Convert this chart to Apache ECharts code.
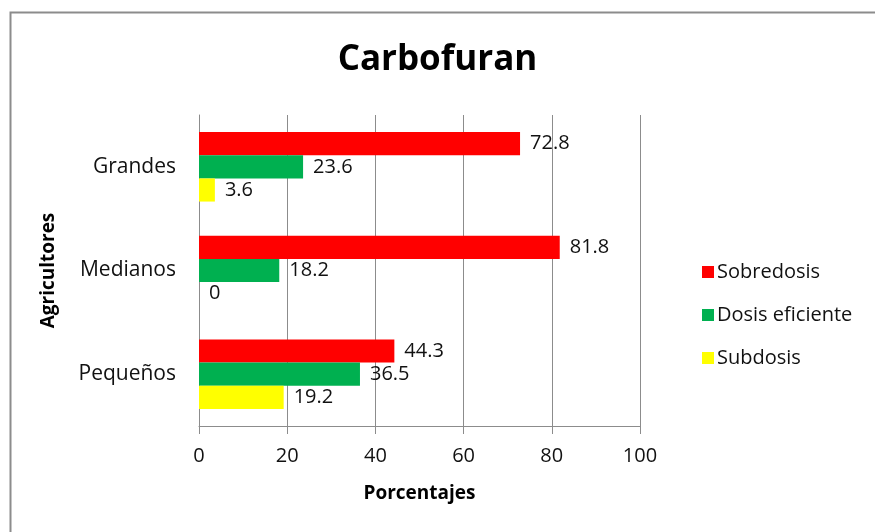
<!DOCTYPE html>
<html>
<head>
<meta charset="utf-8">
<script src="https://cdn.jsdelivr.net/npm/echarts@6/dist/echarts.min.js"></script>
<style>
  html, body { margin: 0; padding: 0; background: #fff; }
  #chart { width: 875px; height: 532px; }
</style>
</head>
<body>
<div id="chart"></div>
<script>
// categories bottom -> top, as the axis draws them
const categories = ['Pequeños', 'Medianos', 'Grandes']
const sobredosis = [44.3, 81.8, 72.8]
const dosisEficiente = [36.5, 18.2, 23.6]
const subdosis = [19.2, 0, 3.6]
const xTicks = [0, 20, 40, 60, 80, 100]

const font = '"Open Sans", Lato, sans-serif'
const grayLine = '#8c8c8c'

const label = {
  show: true,
  position: 'right',
  distance: 10,
  color: '#111',
  fontSize: 20,
  fontFamily: font
}

const chart = echarts.init(document.getElementById('chart'))
chart.setOption({
  backgroundColor: '#fff',
  animation: false,
  title: {
    text: 'Carbofuran',
    left: 'center',
    top: 38,
    textStyle: { fontSize: 35, fontWeight: 'bold', color: '#000', fontFamily: font }
  },
  graphic: [{
    type: 'rect',
    shape: { x: 10.5, y: 12.5, width: 900, height: 600 },
    style: { fill: 'none', stroke: grayLine, lineWidth: 2 },
    silent: true
  }],
  legend: {
    orient: 'vertical',
    left: 697,
    top: 257,
    itemGap: 23,
    itemWidth: 12,
    itemHeight: 12,
    icon: 'rect',
    data: ['Sobredosis', 'Dosis eficiente', 'Subdosis'],
    textStyle: { fontSize: 20, color: '#111', fontFamily: font, padding: [0, 0, 0, -2] }
  },
  grid: { left: 199, right: 235, top: 115, bottom: 106, containLabel: false },
  xAxis: {
    type: 'value',
    min: xTicks[0],
    max: xTicks[xTicks.length - 1],
    interval: 20,
    name: 'Porcentajes',
    nameLocation: 'middle',
    nameGap: 58,
    nameTextStyle: { fontSize: 19, fontWeight: 'bold', color: '#000', fontFamily: font },
    axisLine: { show: true, lineStyle: { color: grayLine } },
    axisTick: { show: true, length: 8, lineStyle: { color: grayLine } },
    splitLine: { show: true, lineStyle: { color: grayLine } },
    axisLabel: { fontSize: 20, color: '#111', margin: 20, fontFamily: font }
  },
  yAxis: {
    type: 'category',
    data: categories,
    name: 'Agricultores',
    nameLocation: 'middle',
    nameGap: 141,
    nameTextStyle: { fontSize: 19, fontWeight: 'bold', color: '#000', fontFamily: font },
    axisLine: { show: true, lineStyle: { color: grayLine } },
    axisTick: { show: false },
    axisLabel: { fontSize: 21, color: '#111', margin: 23, fontFamily: font }
  },
  series: [
    { name: 'Sobredosis', type: 'bar', data: sobredosis, itemStyle: { color: '#FF0000' },
      barGap: '0%', barCategoryGap: '33%', label: label },
    { name: 'Dosis eficiente', type: 'bar', data: dosisEficiente, itemStyle: { color: '#00B050' },
      barGap: '0%', barCategoryGap: '33%', label: label },
    { name: 'Subdosis', type: 'bar', data: subdosis, itemStyle: { color: '#FFFF00' },
      barGap: '0%', barCategoryGap: '33%', label: label }
  ]
})
</script>
</body>
</html>
